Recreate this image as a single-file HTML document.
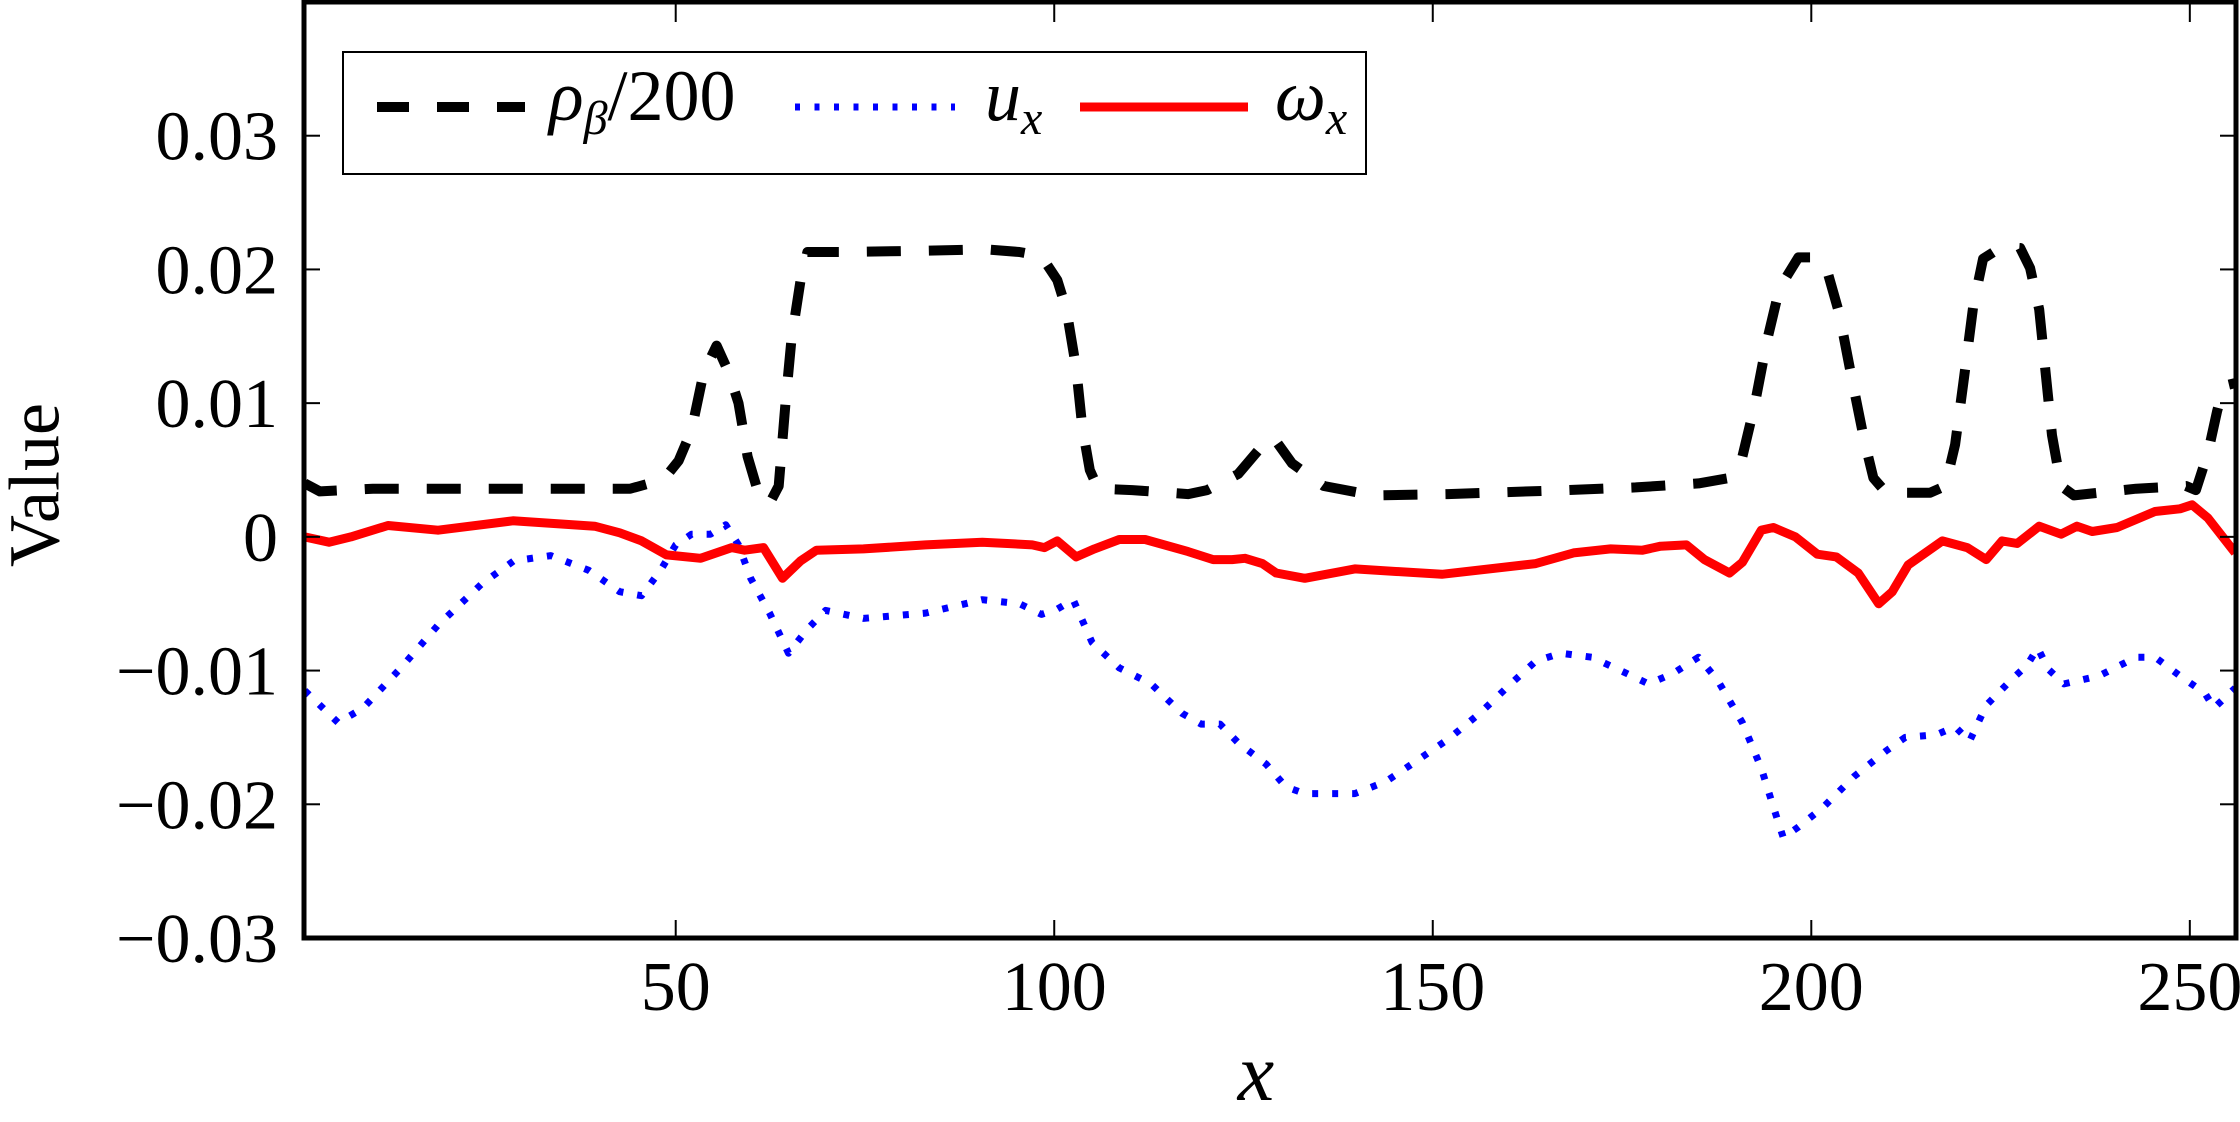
<!DOCTYPE html>
<html><head><meta charset="utf-8"><style>
html,body{margin:0;padding:0;background:#fff;}
svg{display:block;font-family:"Liberation Serif","Times New Roman",Times,serif;}
svg text{font-family:"Liberation Serif","Times New Roman",Times,serif;fill:#000;}
</style></head><body>
<svg id="chart" width="2240" height="1122" viewBox="0 0 2240 1122" xmlns="http://www.w3.org/2000/svg" font-family="Liberation Serif, Times New Roman, serif">
<defs><clipPath id="clip"><rect x="304" y="2" width="1932" height="936"/></clipPath></defs>
<g id="series" clip-path="url(#clip)"></g>
<g id="axes"></g>
<rect x="304" y="2" width="1932" height="936" fill="none" stroke="#000" stroke-width="5"/>
<text x="42" y="485" font-family="Liberation Serif, serif" font-size="72" text-anchor="middle" dominant-baseline="middle" transform="rotate(-90 42 485)">Value</text>
<text x="1256" y="1100" font-family="Liberation Serif, serif" font-size="82" font-style="italic" text-anchor="middle">x</text>
<g>
<rect x="343" y="52" width="1023" height="122" fill="#fff" stroke="#000" stroke-width="2"/>
<line x1="377" y1="107" x2="525" y2="107" stroke="#000" stroke-width="10" stroke-dasharray="32,28"/>
<text x="549" y="120" font-family="Liberation Serif, serif" font-size="72"><tspan font-style="italic">ρ</tspan><tspan font-style="italic" font-size="48" dy="14">β</tspan><tspan dy="-14">/200</tspan></text>
<line x1="795" y1="107" x2="955" y2="107" stroke="#0000ff" stroke-width="7" stroke-dasharray="5,14.5"/>
<text x="985" y="120" font-family="Liberation Serif, serif" font-size="72" font-style="italic">u<tspan font-size="48" dy="14">x</tspan></text>
<line x1="1080" y1="107" x2="1248" y2="107" stroke="#ff0000" stroke-width="9"/>
<text x="1275" y="120" font-family="Liberation Serif, serif" font-size="72" font-style="italic">ω<tspan font-size="48" dy="14">x</tspan></text>
</g>
</svg>
<script>
const xTicks = [50, 100, 150, 200, 250];
const yTicks = [-0.03, -0.02, -0.01, 0, 0.01, 0.02, 0.03];
const yTickLabels = ["\u22120.03", "\u22120.02", "\u22120.01", "0", "0.01", "0.02", "0.03"];
const rhoX = [1,3,10,20,30,44,48.4,50.4,52.1,53.7,55.4,57,58.3,59.5,60.8,62.4,63.6,64.5,65.3,66.5,67.4,72,83,91,95.4,98.3,100.4,101.6,102.9,103.7,104.7,105.8,110.3,117.7,120.2,124.3,127.6,129,131.4,135.6,142.2,152,167.8,176.8,185.1,189.2,190.9,192.5,194.2,195.8,198.3,200.4,202,203.7,205.3,207,208.2,209.9,215.7,217.7,219,220.2,221.4,222.7,225.2,227.6,228.9,230.1,231,231.8,233,234.7,242.9,249.5,250.8,252.4,253.6,254.5,256];
const rhoY = [0.0040,0.0034,0.0036,0.0036,0.0036,0.0036,0.0043,0.0057,0.008,0.0123,0.0143,0.0123,0.010,0.006,0.0035,0.0025,0.0038,0.010,0.0148,0.0192,0.0213,0.0213,0.0214,0.0215,0.0213,0.021,0.0192,0.017,0.0126,0.0082,0.005,0.0036,0.0035,0.0032,0.0035,0.0047,0.0069,0.0074,0.0055,0.0038,0.0031,0.0032,0.0035,0.0037,0.004,0.0044,0.006,0.0098,0.0148,0.0186,0.0209,0.0209,0.0201,0.0167,0.012,0.0072,0.0044,0.0033,0.0033,0.0038,0.0069,0.012,0.0173,0.0208,0.0217,0.0216,0.0201,0.017,0.012,0.0076,0.0038,0.0031,0.0036,0.0038,0.0035,0.0063,0.0094,0.0113,0.0115];
const uX = [1,5.4,8.7,13.7,18.6,24.4,28.6,33.5,38.5,42.6,45.5,48,50,52.1,54.6,56.6,58.3,59.9,62.4,64.9,67.4,69.8,74.8,83,90.5,95.4,98.3,100.4,102.5,105,108.6,112.8,116.9,119.4,121.9,124.3,128,130.6,133.1,139.7,143.8,148,152.1,156.2,160.3,163.6,166.9,171,175.2,178.5,181.8,185.1,187.6,190.9,193.4,195,196.3,198.3,201.6,205.7,209.9,212.4,216.5,219,220.9,223.1,226.4,228.5,229.9,231.3,233.4,238,242.9,245.4,248.7,252,253.2,256];
const uY = [-0.0115,-0.0139,-0.0128,-0.0098,-0.0066,-0.0035,-0.0018,-0.0014,-0.0025,-0.0041,-0.0044,-0.0025,-0.0006,0.0002,0.0002,0.0009,-0.0006,-0.0031,-0.0057,-0.0087,-0.0069,-0.0055,-0.0061,-0.0057,-0.0047,-0.005,-0.0058,-0.0054,-0.0047,-0.0079,-0.0098,-0.011,-0.0132,-0.014,-0.014,-0.0154,-0.017,-0.0187,-0.0192,-0.0192,-0.0183,-0.0167,-0.0151,-0.0132,-0.011,-0.0093,-0.0087,-0.009,-0.0101,-0.011,-0.0102,-0.009,-0.0107,-0.0139,-0.0173,-0.0202,-0.0225,-0.0217,-0.0202,-0.0179,-0.016,-0.015,-0.0148,-0.0142,-0.0153,-0.0126,-0.0107,-0.0096,-0.0083,-0.0099,-0.011,-0.0104,-0.009,-0.009,-0.0104,-0.0117,-0.0128,-0.0113];
const wX = [1,4.2,7.1,12,18.6,28.5,39.3,42.6,45.5,48.8,53.3,57.4,59.1,61.6,64.1,66.5,68.6,74.8,83,90.5,93.8,97.1,98.7,100.4,102.9,105.3,108.6,112,117.7,121,123.5,125.2,127.5,129.3,133.1,139.7,151.2,163.6,168.6,173.5,177.7,180.1,183.5,185.9,189.2,190.9,193.4,195,197.9,200.8,203.3,206.2,208.9,210.7,212.8,217.3,220.6,223.1,225.2,227.2,230.1,233,235.1,237.1,240.4,245.4,248.7,250.3,252.4,256];
const wY = [0,-0.0004,0,0.00085,0.0005,0.0012,0.0008,0.0003,-0.0003,-0.00135,-0.0016,-0.0008,-0.001,-0.0008,-0.0031,-0.0018,-0.001,-0.0009,-0.0006,-0.0004,-0.0005,-0.0006,-0.0008,-0.0003,-0.0015,-0.0009,-0.0002,-0.0002,-0.0011,-0.0017,-0.0017,-0.0016,-0.0020,-0.0027,-0.0031,-0.0024,-0.0028,-0.002,-0.0012,-0.0009,-0.001,-0.0007,-0.0006,-0.0017,-0.0027,-0.0019,0.0005,0.0007,0,-0.0013,-0.0015,-0.0027,-0.005,-0.0041,-0.0021,-0.0003,-0.0008,-0.0017,-0.0003,-0.0005,0.0008,0.0002,0.0008,0.0004,0.0007,0.0019,0.0021,0.0024,0.0014,-0.0012];

const NS = "http://www.w3.org/2000/svg";
const L = 304, R = 2236, T = 2, B = 938;
const xMin = 0.9, xMax = 256.1, yMin = -0.03, yMax = 0.04;
const sx = v => L + (v - xMin) / (xMax - xMin) * (R - L);
const sy = v => B - (v - yMin) / (yMax - yMin) * (B - T);
const axes = document.getElementById('axes');
const series = document.getElementById('series');
function mk(tag, attrs, parent) {
  const el = document.createElementNS(NS, tag);
  for (const k in attrs) el.setAttribute(k, attrs[k]);
  parent.appendChild(el);
  return el;
}
xTicks.forEach(v => {
  const X = sx(v);
  const t1 = mk('line', {x1: X, y1: B, x2: X, y2: B - 18, stroke: '#000', 'stroke-width': 2}, axes);
  
  
  const t2 = mk('line', {x1: X, y1: T, x2: X, y2: T + 20, stroke: '#000', 'stroke-width': 2}, axes);
  
  
  const lb = mk('text', {x: X, y: 1010, 'font-size': 70, 'text-anchor': 'middle', 'font-family': 'Liberation Serif, serif'}, axes);
  lb.textContent = String(v);
  
  
});
yTicks.forEach((v, i) => {
  const Y = sy(v);
  const t1 = mk('line', {x1: L, y1: Y, x2: L + 16, y2: Y, stroke: '#000', 'stroke-width': 2}, axes);
  
  
  const t2 = mk('line', {x1: R, y1: Y, x2: R - 16, y2: Y, stroke: '#000', 'stroke-width': 2}, axes);
  
  
  const lb = mk('text', {x: 278, y: Y + 24, 'font-size': 70, 'text-anchor': 'end', 'font-family': 'Liberation Serif, serif'}, axes);
  lb.textContent = yTickLabels[i];
  
  
});
function pathOf(xs, ys) {
  return xs.map((x, i) => (i ? 'L' : 'M') + sx(x).toFixed(1) + ',' + sy(ys[i]).toFixed(1)).join(' ');
}
const pu = mk('path', {d: pathOf(uX, uY), fill: 'none', stroke: '#0000ff', 'stroke-width': 7, 'stroke-dasharray': '6,14', 'stroke-linejoin': 'round'}, series);


const pr = mk('path', {d: pathOf(rhoX, rhoY), fill: 'none', stroke: '#000', 'stroke-width': 10, 'stroke-dasharray': '34,28', 'stroke-linejoin': 'round'}, series);


const pw = mk('path', {d: pathOf(wX, wY), fill: 'none', stroke: '#ff0000', 'stroke-width': 9, 'stroke-linejoin': 'round'}, series);


</script>
</body></html>
